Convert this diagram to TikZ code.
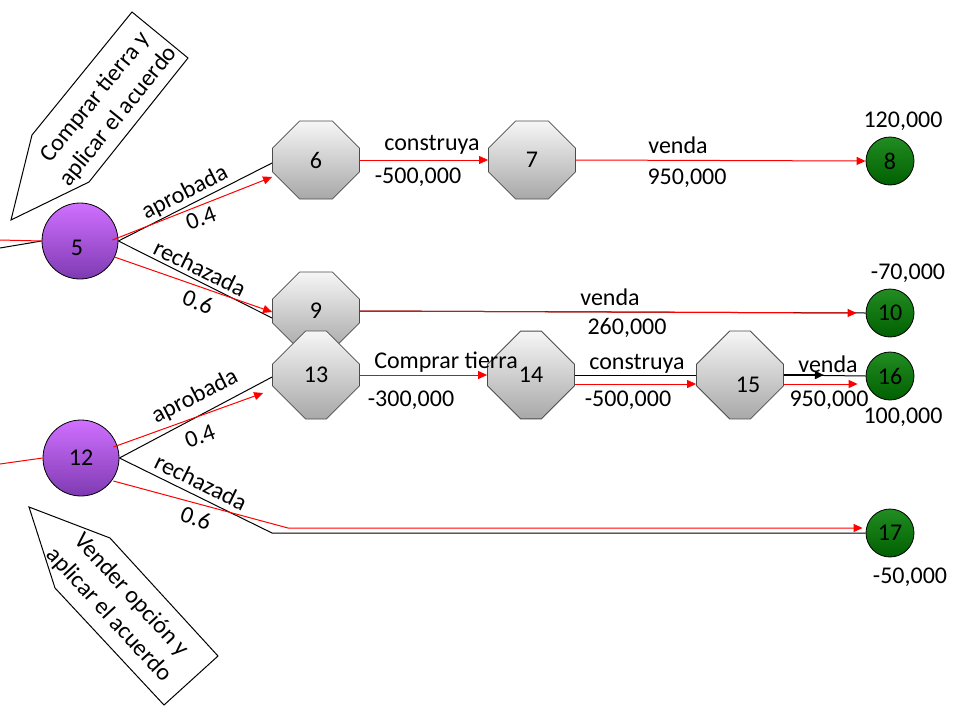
\documentclass[tikz,border=0pt]{standalone}
\usepackage{fontspec}
\setmainfont{Carlito}
\usetikzlibrary{arrows.meta,shapes.misc,calc}

\definecolor{purptop}{RGB}{208,112,255}
\definecolor{purpbot}{RGB}{126,58,178}
\definecolor{greentop}{RGB}{34,140,34}
\definecolor{greenbot}{RGB}{0,96,0}
\definecolor{octtop}{RGB}{246,246,246}
\definecolor{octbot}{RGB}{168,168,168}

\tikzset{
  decision/.style={circle, draw=black, line width=0.8pt, top color=purptop, bottom color=purpbot, minimum size=76pt, inner sep=0pt},
  chance/.style={chamfered rectangle, chamfered rectangle sep=21pt, draw=black!70, line width=0.8pt, top color=octtop, bottom color=octbot, minimum width=87pt, minimum height=78pt, inner xsep=0pt, inner ysep=24pt},
  payoff/.style={circle, draw=black, line width=0.8pt, top color=greentop, bottom color=greenbot, minimum size=48pt, inner sep=0pt},
  flow/.style={red, line width=1pt, -{Triangle[length=9pt,width=8pt]}},
  branch/.style={black, line width=1pt},
  callout/.style={draw=black, fill=white, line width=1pt, line join=miter}
}

\begin{document}
\begin{tikzpicture}[x=1pt, y=-1pt, font=\fontsize{24}{30}\selectfont]
\useasboundingbox (0,0) rectangle (960,720);

% Callouts
\draw[callout] (132,12) -- (188,58) -- (89,182) -- (11,220) -- (32,135) -- cycle;
\node[rotate=51, align=center] (txtA) at (107,107) {Comprar tierra y\\aplicar el acuerdo};
\draw[callout] (29,507) -- (110,538) -- (218,656) -- (164,705) -- (55,588) -- cycle;
\node[rotate=-47.5, align=center] (txtB) at (120,605) {Vender opción y\\aplicar el acuerdo};

% Nodes
\node[decision] (n5) at (80,241) {};
\node (t5) at (77,248) {5};
\node[decision] (n12) at (81,458) {12};

\node[chance] (n6) at (316,160) {6};
\node[chance] (n7) at (532,160) {7};
\node[chance] (n9) at (316,311) {9};
\node[chance] (n13) at (316,375) {13};
\node[chance] (n14) at (531,375) {14};
\node[chance] (n15) at (740,375) {\phantom{15}};
\node (t15) at (748,385) {15};

\node[payoff] (n8) at (890,161) {8};
\node[payoff] (n10) at (890,313) {10};
\node[payoff] (n16) at (890,376) {16};
\node[payoff] (n17) at (890,533) {17};

% Incoming stubs
\coordinate (in5) at (0,240);
\coordinate (in5b) at (0,248);
\coordinate (in12) at (0,464);
\draw[branch] (in5b) -- (n5.west);
\draw[red, line width=1pt] (in5) -- (n5.west);
\draw[red, line width=1pt] (in12) -- (n12.west);

% Branches of 5
\draw[branch] (n5.east) -- ($(n6.west)+(0,3)$);
\draw[flow] ($(n5.east)+(-6,-1)$) -- ($(n6.west)+(0,17)$);
\draw[branch] (n5.east) -- ($(n9.west)+(0,7)$);
\draw[flow] ($(n5.east)+(-4,16)$) -- ($(n9.west)+(0,1)$);

% Branches of 12
\coordinate (k17) at (272,533);
\coordinate (r17) at (288,528);
\draw[branch] (n12.east) -- ($(n13.west)+(0,2)$);
\draw[flow] ($(n12.east)+(-6,-11)$) -- ($(n13.west)+(-9,18)$);
\draw[branch] (n12.east) -- (k17) -- (n17.west);
\draw[flow] ($(n12.east)+(-6,23)$) -- (r17) -- ($(n17.west)+(-3,-5)$);

% Horizontal branches
\draw[flow] (n6.east) -- (n7.west);
\draw[flow] (n7.east) -- (n8.west);
\draw[branch] (n9.east) -- (n10.west);
\draw[flow] (n9.east) -- ($(n10.west)+(-9,0)$);
\draw[flow] (n13.east) -- (n14.west);
\draw[branch] (n14.east) -- (n15.west);
\draw[flow] ($(n14.east)+(0,9)$) -- ($(n15.west)+(0,9)$);
\draw[branch] (n15.east) -- (n16.west);
\draw[black, line width=1.8pt, -{Triangle[length=9pt,width=8pt]}] (n15.east) -- ($(n15.east)+(40,0)$);
\draw[flow] ($(n15.east)+(0,9)$) -- ($(n16.west)+(-8,8)$);

% Probability labels
\node[rotate=27] (apr5) at (185,193) {aprobada};
\node[rotate=20] (p5a) at (201,218) {0.4};
\node[rotate=-26] (rec5) at (200,268) {rechazada};
\node[rotate=-22] (p5r) at (198,302) {0.6};
\node[rotate=27] (apr12) at (195,397) {aprobada};
\node[rotate=20] (p12a) at (200,436) {0.4};
\node[rotate=-26] (rec12) at (201,482) {rechazada};
\node[rotate=-20] (p12r) at (196,518) {0.6};

% Action and value labels
\node (a67) at (432,145) {construya};
\node (v67) at (418,177) {-500,000};
\node (a78) at (678,145) {venda};
\node (v78) at (687,178) {950,000};
\node (a910) at (610,297) {venda};
\node (v910) at (627,328) {260,000};
\node (a1314) at (446,362) {Comprar tierra};
\node (v1314) at (411,400) {-300,000};
\node (a1415) at (637,364) {construya};
\node (v1415) at (628,400) {-500,000};
\node (a1516) at (828,364) {venda};
\node (v1516) at (829,400) {950,000};

% Payoffs
\node (w8) at (903,121) {120,000};
\node (w10) at (908,273) {-70,000};
\node (w16) at (903,417) {100,000};
\node (w17) at (910,577) {-50,000};
\end{tikzpicture}
\end{document}
